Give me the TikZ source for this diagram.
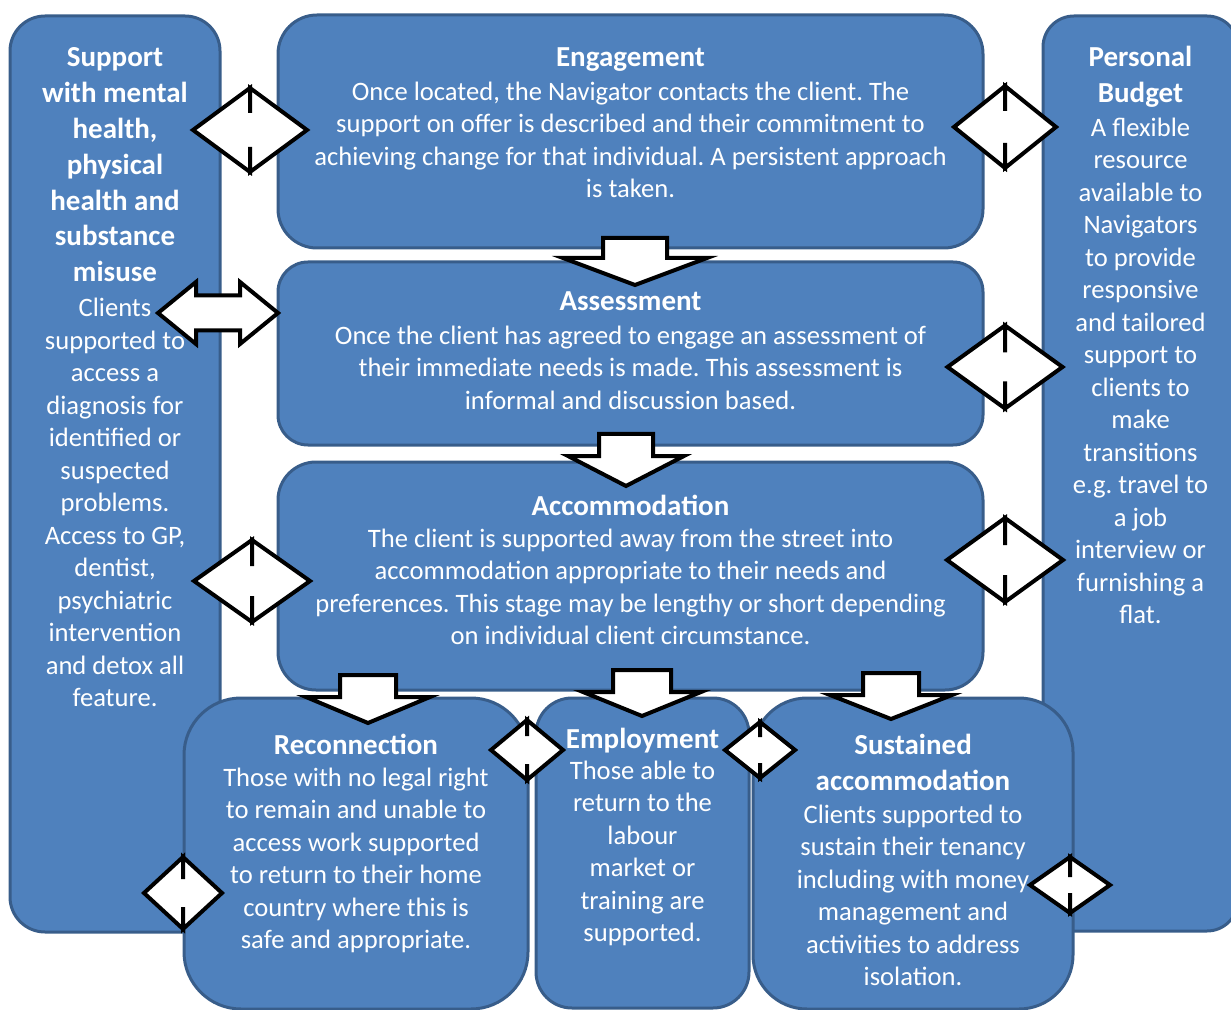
\documentclass[tikz,border=0pt]{standalone}
\usepackage{fontspec}
\setmainfont{Carlito}
\frenchspacing
\usetikzlibrary{positioning,fit,calc}
\definecolor{boxfill}{HTML}{4F81BD}
\definecolor{boxline}{HTML}{385D8A}
\tikzset{
  stage/.style={draw=boxline,fill=boxfill,line width=1.5pt,inner sep=0pt},
  headtxt/.style={text=white,font=\bfseries\fontsize{14.5}{17.9}\selectfont,
    align=center,inner sep=0pt,text depth=0pt,execute at begin node=\strut},
  bodytxt/.style={text=white,font=\fontsize{13.3}{16.25}\selectfont,
    align=center,inner sep=0pt,execute at begin node=\strut},
  blockarrow/.style={draw=black,fill=white,line width=2pt,line join=miter},
  % left-right arrow: half length, half height, shaft half width, head back
  pics/twoway/.style n args={4}{code={
    \draw[blockarrow] (-#1,0) -- (-#4,-#2) -- (-#4,-#3) -- (#4,-#3) -- (#4,-#2)
      -- (#1,0) -- (#4,#2) -- (#4,#3) -- (-#4,#3) -- (-#4,#2) -- cycle;}},
  % down arrow: shaft half width, head half width, head back, tip
  pics/downarrow/.style n args={4}{code={
    \draw[blockarrow] (-#1,0) -- (#1,0) -- (#1,#3) -- (#2,#3) -- (0,#4)
      -- (-#2,#3) -- (-#1,#3) -- cycle;}}
}
\begin{document}
\begin{tikzpicture}[x=0.5pt,y=-0.5pt]
 \useasboundingbox (0,0) rectangle (1231,1010);
 % boxes
 \node[stage,rounded corners=17.5pt,fit={(10,16) (220,932)}] (mental) {};
 \node[stage,rounded corners=15.5pt,fit={(1043,16) (1238,931)}] (budget) {};
 \node[stage,rounded corners=19.5pt,fit={(278,15) (983,248)}] (engage) {};
 \node[stage,rounded corners=15pt,fit={(278,262) (983,445)}] (assess) {};
 \node[stage,rounded corners=19pt,fit={(278,462) (983,690)}] (accom) {};
 \node[stage,rounded corners=28.5pt,fit={(184,698) (528,1009)}] (reconn) {};
 \node[stage,rounded corners=18pt,fit={(536,698) (749,1008)}] (employ) {};
 \node[stage,rounded corners=27pt,fit={(753,698) (1073,1009)}] (sustain) {};

 % texts
 \node[headtxt,below=16.5pt of mental.north] (mentalhd)
   {Support\\with mental\\health,\\physical\\health and\\substance\\misuse};
 \node[bodytxt,below=8pt of mentalhd] (mentalbd)
   {Clients\\supported to\\access a\\diagnosis for\\identified or\\suspected\\problems.\\Access to GP,\\dentist,\\psychiatric\\intervention\\and detox all\\feature.};
 \node[headtxt,below=15.5pt of budget.north] (budgethd) {Personal\\Budget};
 \node[bodytxt,below=7.5pt of budgethd] (budgetbd)
   {A flexible\\resource\\available to\\Navigators\\to provide\\responsive\\and tailored\\support to\\clients to\\make\\transitions\\e.g. travel to\\a job\\interview or\\furnishing a\\flat.};
 \node[headtxt,below=14pt of engage.north] (engagehd) {Engagement};
 \node[bodytxt,below=7pt of engagehd] (engagebd)
   {Once located, the Navigator contacts the client. The\\support on offer is described and their commitment to\\achieving change for that individual. A persistent approach\\is taken.};
 \node[headtxt,below=12.5pt of assess.north] (assesshd) {Assessment};
 \node[bodytxt,below=7pt of assesshd] (assessbd)
   {Once the client has agreed to engage an assessment of\\their immediate needs is made. This assessment is\\informal and discussion based.};
 \node[headtxt,below=15pt of accom.north] (accomhd) {Accommodation};
 \node[bodytxt,below=6pt of accomhd] (accombd)
   {The client is supported away from the street into\\accommodation appropriate to their needs and\\preferences. This stage may be lengthy or short depending\\on individual client circumstance.};
 \node[headtxt,below=16.5pt of reconn.north] (reconnhd) {Reconnection};
 \node[bodytxt,below=6pt of reconnhd] (reconnbd)
   {Those with no legal right\\to remain and unable to\\access work supported\\to return to their home\\country where this is\\safe and appropriate.};
 \node[headtxt,below=13.5pt of employ.north] (employhd) {Employment};
 \node[bodytxt,below=5.5pt of employhd] (employbd)
   {Those able to\\return to the\\labour\\market or\\training are\\supported.};
 \node[headtxt,below=18.5pt of sustain.north] (sustainhd) {Sustained\\accommodation};
 \node[bodytxt,below=7pt of sustainhd] (sustainbd)
   {Clients supported to\\sustain their tenancy\\including with money\\management and\\activities to address\\isolation.};

 % down arrows
 \pic at (635,238) {downarrow={32}{72}{20}{47}};
 \pic at (626,434) {downarrow={27}{58}{22}{52}};
 \pic at (368,675) {downarrow={28}{62}{22}{48}};
 \pic at (642,670) {downarrow={29}{59}{22}{46}};
 \pic at (891,673) {downarrow={28}{61}{22}{46}};

 % two-way arrows
 \pic at (250,130) {twoway={57}{42}{17}{0}};
 \pic at (1005,127) {twoway={51}{41}{16}{0}};
 \pic at (218,313) {twoway={60}{31}{17.5}{22}};
 \pic at (1005,367) {twoway={57.5}{41.5}{14.5}{0}};
 \pic at (252,581) {twoway={58}{41}{15}{0}};
 \pic at (1005,560) {twoway={58}{42}{15}{0}};
 \pic at (527,750) {twoway={36}{30}{14}{0}};
 \pic at (760,750) {twoway={35}{28}{13}{0}};
 \pic at (183,893) {twoway={39}{36}{14}{0}};
 \pic at (1070,885) {twoway={40}{28}{8}{0}};
\end{tikzpicture}
\end{document}
